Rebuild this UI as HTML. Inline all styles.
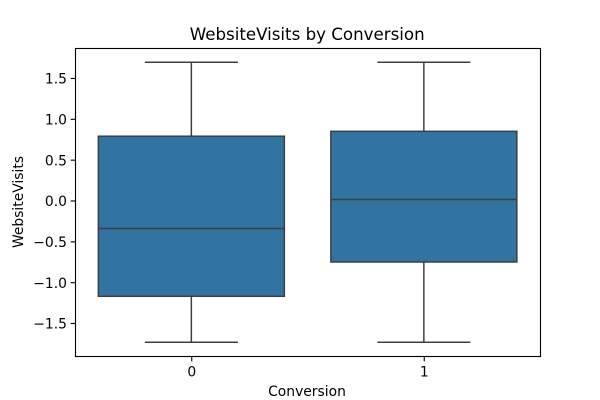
<!DOCTYPE html>
<html>
<head>
<meta charset="utf-8">
<title>WebsiteVisits by Conversion</title>
<style>
html,body{margin:0;padding:0;background:#fff;}
svg{display:block;}
text{font-family:"DejaVu Sans",sans-serif;fill:#000;}
</style>
</head>
<body>
<svg id="chart" width="600" height="400" viewBox="0 0 600 400" xmlns="http://www.w3.org/2000/svg">
  <rect x="0" y="0" width="600" height="400" fill="#fff"/>
  <g id="marks" transform="translate(0.1,0.25)"></g>
  <g id="axes" transform="translate(0.5,0.5)"></g>
  <text x="307.2" y="40" font-size="16.67" text-anchor="middle">WebsiteVisits by Conversion</text>
  <text x="307" y="396" font-size="13.89" text-anchor="middle">Conversion</text>
  <text transform="translate(23,202) rotate(-90)" font-size="13.89" text-anchor="middle">WebsiteVisits</text>
</svg>
<script>
const categories = ['0', '1'];
const whiskerLow = [-1.733, -1.733];
const quartile1 = [-1.17, -0.75];
const medians = [-0.34, 0.015];
const quartile3 = [0.79, 0.85];
const whiskerHigh = [1.696, 1.696];
const yTickValues = [-1.5, -1, -0.5, 0, 0.5, 1, 1.5];
const yTickLabels = ['\u22121.5', '\u22121.0', '\u22120.5', '0.0', '0.5', '1.0', '1.5'];

const NS = 'http://www.w3.org/2000/svg';
const plotLeft = 75, plotRight = 540, plotTop = 48, plotBottom = 356;
const yMin = -1.904, yMax = 1.867;
const boxWidth = 0.8, capWidth = 0.4;
const boxFill = '#3274a1', lineColor = '#3f3f3f', lineW = 1.5;

function xScale(v) {
  return plotLeft + (v + 0.5) / categories.length * (plotRight - plotLeft);
}
function yScale(v) {
  return plotBottom - (v - yMin) / (yMax - yMin) * (plotBottom - plotTop);
}
function make(tag, attrs, parent) {
  const el = document.createElementNS(NS, tag);
  for (const k in attrs) el.setAttribute(k, attrs[k]);
  parent.appendChild(el);
  return el;
}

const marks = document.getElementById('marks');
const axes = document.getElementById('axes');

categories.forEach(function (cat, i) {
  const g = make('g', {}, marks);
  
  
  const cx = xScale(i);
  const left = xScale(i - boxWidth / 2);
  const right = xScale(i + boxWidth / 2);
  const capL = xScale(i - capWidth / 2);
  const capR = xScale(i + capWidth / 2);
  const stroke = { stroke: lineColor, 'stroke-width': lineW, fill: 'none' };

  const lowLine = make('line', Object.assign({ x1: cx, x2: cx, y1: yScale(quartile1[i]), y2: yScale(whiskerLow[i]) }, stroke), g);
  
  

  const highLine = make('line', Object.assign({ x1: cx, x2: cx, y1: yScale(quartile3[i]), y2: yScale(whiskerHigh[i]) }, stroke), g);
  
  

  const lowCap = make('line', Object.assign({ x1: capL, x2: capR, y1: yScale(whiskerLow[i]), y2: yScale(whiskerLow[i]) }, stroke), g);
  
  

  const highCap = make('line', Object.assign({ x1: capL, x2: capR, y1: yScale(whiskerHigh[i]), y2: yScale(whiskerHigh[i]) }, stroke), g);
  
  

  const box = make('rect', {
    x: left,
    y: yScale(quartile3[i]),
    width: right - left,
    height: yScale(quartile1[i]) - yScale(quartile3[i]),
    fill: boxFill,
    stroke: lineColor,
    'stroke-width': lineW
  }, g);
  
  

  const med = make('line', Object.assign({ x1: left, x2: right, y1: yScale(medians[i]), y2: yScale(medians[i]) }, stroke), g);
  
  

  const tick = make('line', { x1: cx, x2: cx, y1: plotBottom, y2: plotBottom + 4.86, stroke: '#000', 'stroke-width': 1.11 }, axes);
  
  

  const label = make('text', { x: cx, y: plotBottom + 20, 'font-size': 13.89, 'text-anchor': 'middle' }, axes);
  
  
  label.textContent = cat;
});

yTickValues.forEach(function (v, i) {
  const y = yScale(v);
  const tick = make('line', { x1: plotLeft - 4.86, x2: plotLeft, y1: y, y2: y, stroke: '#000', 'stroke-width': 1.11 }, axes);
  
  

  const label = make('text', { x: plotLeft - 8.5, y: y + 5.1, 'font-size': 13.89, 'text-anchor': 'end' }, axes);
  
  
  label.textContent = yTickLabels[i];
});

const frame = make('rect', {
  x: plotLeft,
  y: plotTop,
  width: plotRight - plotLeft,
  height: plotBottom - plotTop,
  fill: 'none',
  stroke: '#000',
  'stroke-width': 1.11
}, axes);


</script>
</body>
</html>
